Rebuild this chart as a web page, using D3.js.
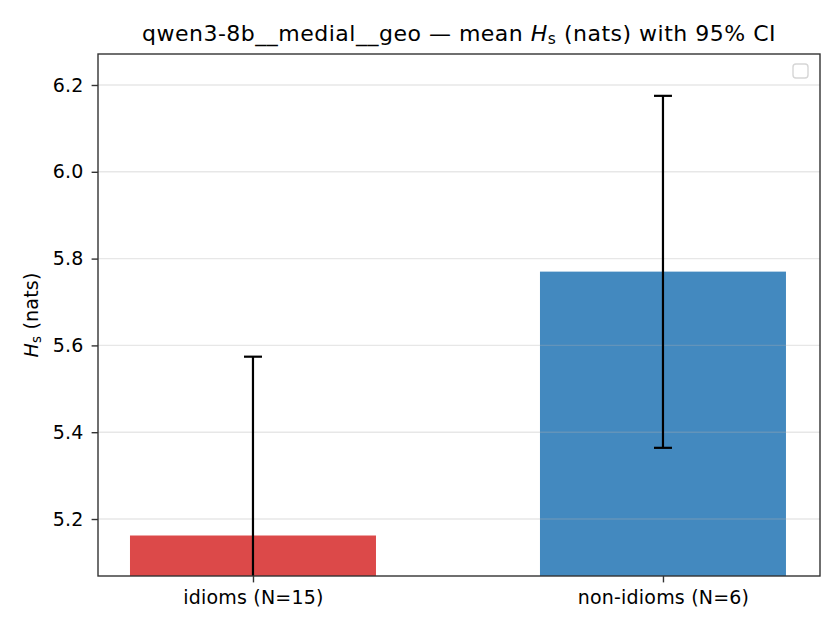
<!DOCTYPE html>
<html>
<head>
<meta charset="utf-8">
<script src="https://cdn.jsdelivr.net/npm/d3@7"></script>
<style>
  body { margin: 0; background: #fff; }
  svg text { font-family: "DejaVu Sans", sans-serif; fill: #000; }
</style>
</head>
<body>
<div id="chart"></div>
<script>
// data
const categories = ["idioms (N=15)", "non-idioms (N=6)"];
const means = [5.162, 5.770];
const ciLow = [4.750, 5.364];
const ciHigh = [5.574, 6.175];
const barColors = ["#dc4949", "#4389bf"];
const yTicks = [5.2, 5.4, 5.6, 5.8, 6.0, 6.2];

const W = 840, H = 630;
const margin = { left: 98, right: 20, top: 54, bottom: 54 };
const width = W - margin.left - margin.right;
const height = H - margin.top - margin.bottom;

let svg = d3.select("#chart").append("svg")
  .attr("width", W)
  .attr("height", H);

/////////////////////////////
let xScale = d3.scaleLinear()
  .domain([-0.378, 1.383])
  .range([0, width]);

let yScale = d3.scaleLinear()
  .domain([5.0687, 6.2714])
  .range([height, 0]);

let chart = svg.append("g")
  .attr("transform", `translate(${margin.left}, ${margin.top})`);

svg.append("defs").append("clipPath")
  .attr("id", "plotclip")
  .append("rect")
  .attr("width", width)
  .attr("height", height);

let plot = chart.append("g").attr("clip-path", "url(#plotclip)");

/////////////////////////////
// bars
const barW = 0.6;
plot.selectAll("rect.bar")
  .data(categories)
  .join("rect")
  .attr("class", "bar")
  .attr("x", (d, i) => xScale(i - barW / 2))
  .attr("width", (d, i) => xScale(i + barW / 2) - xScale(i - barW / 2))
  .attr("y", (d, i) => yScale(means[i]))
  .attr("height", (d, i) => yScale.range()[0] - yScale(means[i]))
  .attr("fill", (d, i) => barColors[i]);

// grid sits above the bars, faint
plot.append("g")
  .selectAll("line")
  .data(yTicks)
  .join("line")
  .attr("x1", 0)
  .attr("x2", width)
  .attr("y1", d => yScale(d))
  .attr("y2", d => yScale(d))
  .attr("stroke", "#b0b0b0")
  .attr("stroke-opacity", 0.3)
  .attr("stroke-width", 1.4);

/////////////////////////////
// error bars
const cap = 9;
let err = plot.append("g").selectAll("g")
  .data(categories)
  .join("g");
err.append("line")
  .attr("x1", (d, i) => xScale(i))
  .attr("x2", (d, i) => xScale(i))
  .attr("y1", (d, i) => yScale(ciLow[i]))
  .attr("y2", (d, i) => yScale(ciHigh[i]))
  .attr("stroke", "#000")
  .attr("stroke-width", 2.2);
[ciLow, ciHigh].forEach(arr => {
  err.append("line")
    .attr("x1", (d, i) => xScale(i) - cap)
    .attr("x2", (d, i) => xScale(i) + cap)
    .attr("y1", (d, i) => yScale(arr[i]))
    .attr("y2", (d, i) => yScale(arr[i]))
    .attr("stroke", "#000")
    .attr("stroke-width", 2.2);
});

/////////////////////////////
// axes
let xAxis = d3.axisBottom(xScale)
  .tickValues([0, 1])
  .tickFormat(i => categories[i])
  .tickSize(6.4)
  .tickPadding(8);
let yAxis = d3.axisLeft(yScale)
  .tickValues(yTicks)
  .tickFormat(d3.format(".1f"))
  .tickSize(6.4)
  .tickPadding(6);

let gx = chart.append("g")
  .attr("transform", `translate(0, ${height})`)
  .call(xAxis);
let gy = chart.append("g").call(yAxis);
[gx, gy].forEach(g => {
  g.select(".domain").remove();
  g.selectAll("line").attr("stroke", "#333").attr("stroke-width", 1.4);
  g.selectAll("text")
    .attr("font-size", "19px")
    .attr("letter-spacing", "0.2px")
    .style("font-family", "DejaVu Sans, sans-serif");
});
gy.selectAll("text").attr("dx", "-2");

// frame
chart.append("rect")
  .attr("width", width)
  .attr("height", height)
  .attr("fill", "none")
  .attr("stroke", "#333")
  .attr("stroke-width", 1.4);

/////////////////////////////
// empty legend box
chart.append("rect")
  .attr("x", width - 27)
  .attr("y", 10)
  .attr("width", 15)
  .attr("height", 14)
  .attr("rx", 3)
  .attr("fill", "#fff")
  .attr("stroke", "#d6d6d6")
  .attr("stroke-width", 1.4);

/////////////////////////////
// titles
let title = svg.append("text")
  .attr("x", margin.left + width / 2)
  .attr("y", 41)
  .attr("text-anchor", "middle")
  .attr("letter-spacing", "0.5px")
  .attr("font-size", "22px");
title.append("tspan").text("qwen3-8b__medial__geo \u2014 mean ");
title.append("tspan").attr("font-style", "italic").text("H");
title.append("tspan").attr("font-size", "15.5px").attr("dy", 3).text("s");
title.append("tspan").attr("dy", -3).text(" (nats) with 95% CI");

let ylab = svg.append("text")
  .attr("transform", `translate(38, ${margin.top + height / 2}) rotate(-90)`)
  .attr("text-anchor", "middle")
  .attr("letter-spacing", "0.2px")
  .attr("font-size", "19px");
ylab.append("tspan").attr("font-style", "italic").text("H");
ylab.append("tspan").attr("font-size", "13.5px").attr("dy", 3).text("s");
ylab.append("tspan").attr("dy", -3).text(" (nats)");
</script>
</body>
</html>
